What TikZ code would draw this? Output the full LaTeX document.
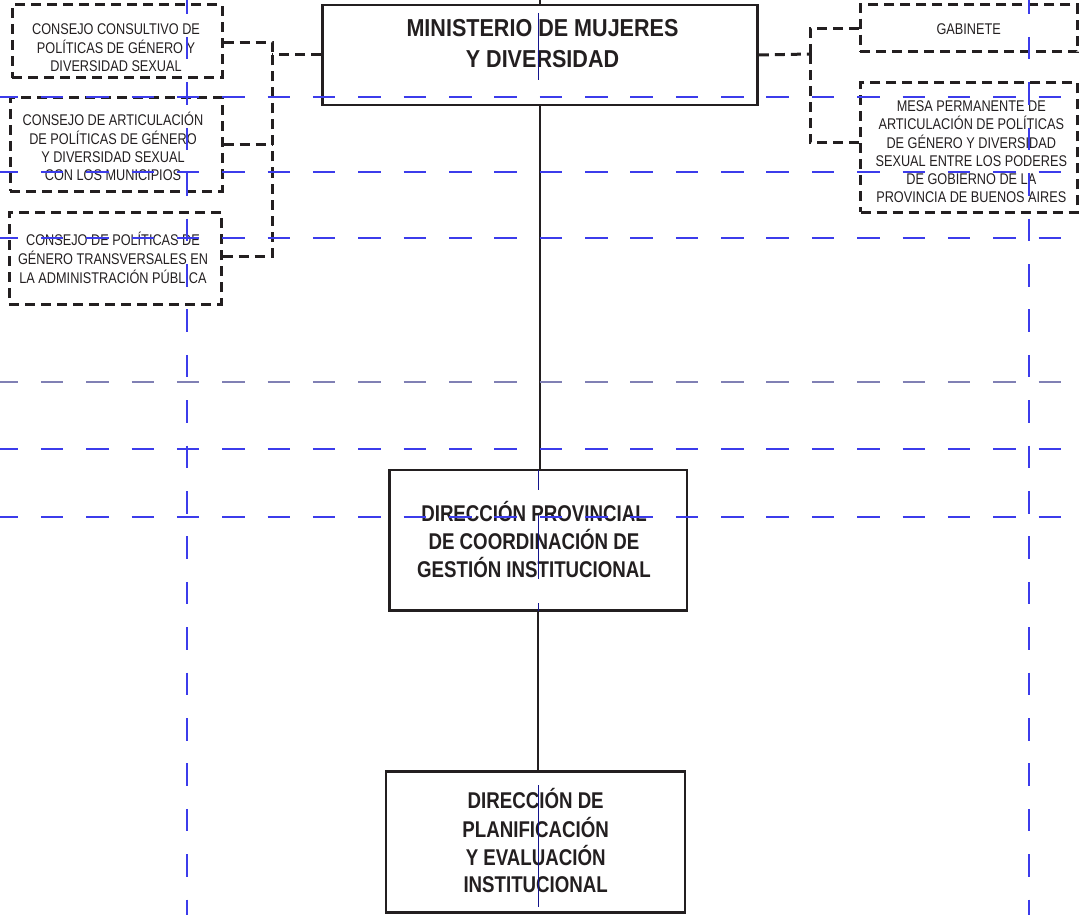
\documentclass[tikz,border=0pt]{standalone}
\usepackage{fontspec}
\setmainfont{Liberation Sans}[FakeStretch=0.82]
\newfontfamily\minfont{Liberation Sans}[FakeStretch=0.88]
\definecolor{ink}{RGB}{35,31,32}
\definecolor{guide}{RGB}{60,60,235}
\definecolor{guidegray}{RGB}{128,128,180}
\definecolor{navy}{RGB}{20,20,140}
\begin{document}
\begin{tikzpicture}[x=1pt,y=-1pt,
  boxsolid/.style={draw=ink,line width=2.6pt,inner sep=0pt},
  boxdash/.style={draw=ink,line width=3pt,dash pattern=on 10pt off 6pt,inner sep=0pt},
  conn/.style={draw=ink,line width=2.2pt},
  dconn/.style={draw=ink,line width=3pt,dash pattern=on 10pt off 6pt},
  smalltext/.style={inner sep=0pt,text=ink,font=\fontsize{15.5}{18}\selectfont},
  bigtext/.style={inner sep=0pt,text=ink,font=\bfseries\fontsize{22.8}{27}\selectfont},
  mintext/.style={inner sep=0pt,text=ink,font=\minfont\bfseries\fontsize{24.5}{31}\selectfont},
  hguide/.style={draw=guide,line width=1.4pt,dash pattern=on 22.5pt off 22.85pt,dash phase=4.5pt},
  hguidegray/.style={hguide,draw=guidegray},
  vguide/.style={draw=guide,line width=1.2pt,dash pattern=on 22.5pt off 22.9pt,dash phase=8.4pt},
  cguide/.style={draw=navy,line width=1pt}
]
\useasboundingbox (0,0) rectangle (1079,915);

% boxes
\node[boxsolid,minimum width=435pt,minimum height=100pt] (m) at (540,55) {};
\node[boxsolid,minimum width=297.7pt,minimum height=140.7pt] (dp) at (538.2,540.3) {};
\node[boxsolid,minimum width=299pt,minimum height=141pt] (dpe) at (535.5,842.2) {};
\node[boxdash,minimum width=210pt,minimum height=73pt] (c1) at (117,41.5) {};
\node[boxdash,minimum width=212pt,minimum height=93pt] (c2) at (116,144.5) {};
\node[boxdash,minimum width=212pt,minimum height=92pt] (c3) at (115,258) {};
\node[boxdash,minimum width=217.7pt,minimum height=47pt] (g) at (968.9,28.5) {};
\node[boxdash,minimum width=217.3pt,minimum height=129pt] (mesa) at (969.3,147.5) {};

% connectors
\coordinate (top) at (540,0);
\draw[conn] (top) -- (m.north);
\draw[conn] (m.south) -- (m.south |- dp.north);
\draw[conn] (dp.south) -- (dp.south |- dpe.north);

\coordinate (jl) at (272,55);
\draw[dconn] (m.west) -- (jl);
\draw[dconn] ([yshift=-1.5pt]c1.east) -| (jl);
\draw[dconn] ([yshift=2pt]c3.east) -| (jl);
\draw[dconn] (c2.east) -- (c2.east -| jl);

\coordinate (jr) at (810,54);
\draw[dconn] (m.east) -- (jr);
\draw[dconn] (g.west) -| (jr);
\draw[dconn] ([yshift=4.5pt]mesa.west) -| (jr);

% texts
\node[mintext] (mt) at (542.5,46.3) {\begin{tabular}{@{}c@{}}MINISTERIO DE MUJERES\\Y DIVERSIDAD\end{tabular}};
\node[bigtext] (dpt) at (534,543.6) {\begin{tabular}{@{}c@{}}DIRECCIÓN PROVINCIAL\\DE COORDINACIÓN DE\\GESTIÓN INSTITUCIONAL\end{tabular}};
\node[bigtext] (dpet) at (535.7,844.5) {\begin{tabular}{@{}c@{}}DIRECCIÓN DE\\PLANIFICACIÓN\\Y EVALUACIÓN\\INSTITUCIONAL\end{tabular}};
\node[smalltext] (c1t) at (116,49.4) {\begin{tabular}{@{}c@{}}CONSEJO CONSULTIVO DE\\POLÍTICAS DE GÉNERO Y\\DIVERSIDAD SEXUAL\end{tabular}};
\node[smalltext] (c2t) at (113,149.4) {\begin{tabular}{@{}c@{}}CONSEJO DE ARTICULACIÓN\\DE POLÍTICAS DE GÉNERO\\Y DIVERSIDAD SEXUAL\\CON LOS MUNICIPIOS\end{tabular}};
\node[smalltext] (c3t) at (113,260.4) {\begin{tabular}{@{}c@{}}CONSEJO DE POLÍTICAS DE\\GÉNERO TRANSVERSALES EN\\LA ADMINISTRACIÓN PÚBLICA\end{tabular}};
\node[smalltext] (gt) at (968.7,31.4) {\begin{tabular}{@{}c@{}}GABINETE\end{tabular}};
\node[smalltext] (mesat) at (971.3,153.4) {\begin{tabular}{@{}c@{}}MESA PERMANENTE DE\\ARTICULACIÓN DE POLÍTICAS\\DE GÉNERO Y DIVERSIDAD\\SEXUAL ENTRE LOS PODERES\\DE GOBIERNO DE LA\\PROVINCIA DE BUENOS AIRES\end{tabular}};

% blue guide lines
\coordinate (h1a) at (0,97);  \coordinate (h1b) at (1079,97);
\coordinate (h2a) at (0,172); \coordinate (h2b) at (1079,172);
\coordinate (h3a) at (0,238); \coordinate (h3b) at (1079,238);
\coordinate (h4a) at (0,382); \coordinate (h4b) at (1079,382);
\coordinate (h5a) at (0,449); \coordinate (h5b) at (1079,449);
\coordinate (h6a) at (0,517); \coordinate (h6b) at (1079,517);
\draw[hguide] (h1a) -- (h1b);
\draw[hguide] (h2a) -- (h2b);
\draw[hguide] (h3a) -- (h3b);
\draw[hguidegray] (h4a) -- (h4b);
\draw[hguide] (h5a) -- (h5b);
\draw[hguide] (h6a) -- (h6b);
\coordinate (v1a) at (187,0);  \coordinate (v1b) at (187,915);
\coordinate (v2a) at (1029,0); \coordinate (v2b) at (1029,915);
\draw[vguide] (v1a) -- (v1b);
\draw[vguide] (v2a) -- (v2b);
% centre guide, visible inside the boxes
\draw[cguide] (538.5,13) -- (538.5,80);
\draw[cguide] (538.5,470) -- (538.5,490);
\draw[cguide] (538.5,515) -- (538.5,579);
\draw[cguide] (538.5,603) -- (538.5,611);
\draw[cguide] (538.5,785) -- (538.5,907);
\end{tikzpicture}
\end{document}
